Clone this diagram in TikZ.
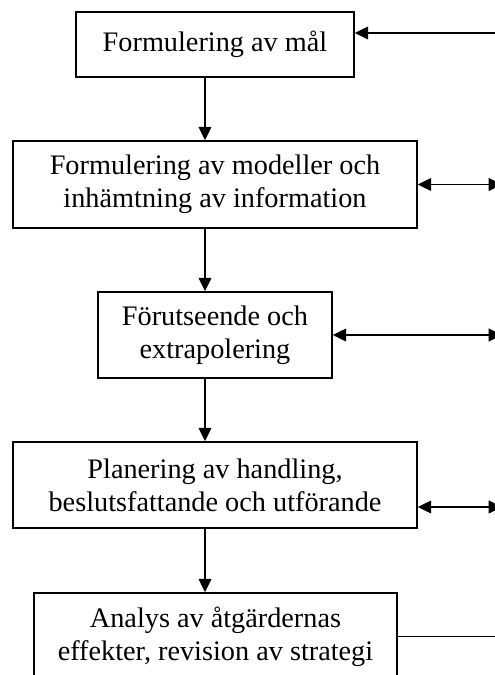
\documentclass[tikz,border=0pt]{standalone}
\usepackage{fontspec}
\setmainfont{Liberation Serif}
\usetikzlibrary{positioning,arrows.meta}
\tikzset{
	box/.style={rectangle, draw, line width=1.2pt, align=center, inner sep=2pt, font=\fontsize{21.2}{25}\selectfont},
	flow/.style={-{Triangle[length=10pt,width=9.5pt]}, line width=1.2pt},
	both/.style={{Triangle[length=10pt,width=9.5pt]}-{Triangle[length=10pt,width=9.5pt]}, line width=1.2pt}
}
\begin{document}
\begin{tikzpicture}[x=0.75pt, y=-0.75pt]
				\useasboundingbox (0,0) rectangle (494,675);
				\node[box, minimum width=208.5pt, minimum height=48.75pt] (mal) at (215,44.5) {Formulering av mål};
				\node[box, minimum width=303pt, minimum height=65.25pt] (modell) at (215,184.5) {Formulering av modeller och\\inhämtning av information};
				\node[box, minimum width=175.5pt, minimum height=64.5pt] (forut) at (215,335) {Förutseende och\\extrapolering};
				\node[box, minimum width=303pt, minimum height=64.5pt] (plan) at (215,485) {Planering av handling,\\beslutsfattande och utförande};
				\node[box, minimum width=272.25pt, minimum height=65.25pt] (analys) at (215.5,636.5) {Analys av åtgärdernas\\effekter, revision av strategi};
				\coordinate (spine) at (205,0);
				\coordinate (edge) at (502,0);
				\coordinate (in1) at (502,33);
				\coordinate (out4) at (502,507);
				\draw[flow] (mal.south -| spine) -- (modell.north -| spine);
				\draw[flow] (modell.south -| spine) -- (forut.north -| spine);
				\draw[flow] (forut.south -| spine) -- (plan.north -| spine);
				\draw[flow] (plan.south -| spine) -- (analys.north -| spine);
				\draw[flow] (in1) -- (in1 -| mal.east);
				\draw[both] (modell.east) -- (modell.east -| edge);
				\draw[both] (forut.east) -- (forut.east -| edge);
				\draw[both] (out4 -| plan.east) -- (out4);
				\draw[line width=1.2pt] (analys.east) -- (analys.east -| edge);
			\end{tikzpicture}
\end{document}
